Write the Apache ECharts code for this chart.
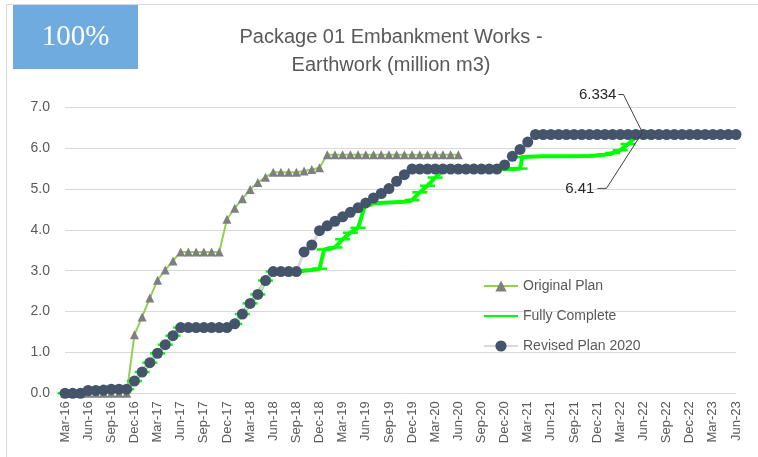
<!DOCTYPE html>
<html>
<head>
<meta charset="utf-8">
<script src="https://cdn.jsdelivr.net/npm/echarts@6/dist/echarts.min.js"></script>
<style>
html,body{margin:0;padding:0;background:#fff;}
#c{width:758px;height:457px;}
</style>
</head>
<body>
<div id="c"></div>
<script>
// Tick labels every 3 months, month index 0 = Mar-16
const tickLabels = ['Mar-16','Jun-16','Sep-16','Dec-16','Mar-17','Jun-17','Sep-17','Dec-17',
  'Mar-18','Jun-18','Sep-18','Dec-18','Mar-19','Jun-19','Sep-19','Dec-19','Mar-20','Jun-20',
  'Sep-20','Dec-20','Mar-21','Jun-21','Sep-21','Dec-21','Mar-22','Jun-22','Sep-22','Dec-22',
  'Mar-23','Jun-23'];

// Revised Plan 2020, monthly Mar-16 .. Jun-23
const revisedPlan = [
  0,0,0,0.07,0.07,0.08,0.1,0.1,0.1,
  0.3,0.52,0.75,0.98,1.19,1.41,1.61,
  1.61,1.61,1.61,1.61,1.61,1.61,
  1.7,1.94,2.2,2.42,2.76,2.98,2.98,2.98,2.98,
  3.46,3.63,3.98,4.1,4.21,4.32,4.43,4.54,4.66,4.78,4.89,5.01,5.19,5.35,5.49,
  5.49,5.49,5.49,5.49,5.49,5.49,5.49,5.49,5.49,5.49,5.49,
  5.59,5.8,5.97,6.15,6.334,
  6.334,6.334,6.334,6.334,6.334,6.334,6.334,6.334,6.334,6.334,6.334,6.334,6.334,
  6.334,6.334,6.334,6.334,6.334,6.334,6.334,6.334,6.334,6.334,6.334,6.334,6.334
];

// Original Plan, monthly Mar-16 .. Jun-20
const originalPlan = [
  0,0,0,0,0,0,0,0,0,
  1.43,1.87,2.33,2.77,3.02,3.24,3.46,
  3.46,3.46,3.46,3.46,3.46,
  4.26,4.53,4.76,4.99,5.16,5.29,5.41,
  5.41,5.41,5.41,
  5.44,5.48,5.52,
  5.84,5.84,5.84,5.84,5.84,5.84,5.84,5.84,5.84,5.84,5.84,5.84,5.84,5.84,5.84,5.84,5.84,5.84
];

// Fully Complete: month positions (index from Mar-16) and values
const fcMonths = [0,1,2,3,4,5,6,7,8,9,10,11,12,13,14,15,16,17,18,19,20,21,22,23,24,25,26,27,28,29,30,
  31,32,33,33.6,35,36,37,38,38.9,40,42,44,45,46,47,48,49,50,52,54,56,58,59,59.3,60,62,65,68,70,71,72,73,74,75];
const fcValues = [0,0,0,0.07,0.07,0.08,0.1,0.1,0.1,0.3,0.52,0.75,0.98,1.19,1.41,1.61,1.61,1.61,1.61,1.61,1.61,1.61,
  1.7,1.94,2.2,2.42,2.76,2.98,2.98,2.98,2.98,
  3.0,3.02,3.05,3.52,3.57,3.77,3.93,4.05,4.6,4.65,4.67,4.69,4.73,4.92,5.08,5.28,5.46,5.49,5.49,5.49,5.49,5.49,5.5,5.78,5.79,5.8,5.8,5.81,5.84,5.88,5.95,6.1,6.27,6.41];

const seriesNames = ['Original Plan','Fully Complete','Revised Plan 2020'];

const chart = echarts.init(document.getElementById('c'), null, {renderer:'canvas'});
const FONT = 'Liberation Sans';
const GREY = '#595959';

const pairs = (arr) => arr.map((v,i)=>[i,v]);

chart.setOption({
  backgroundColor:'#ffffff',
  animation:false,
  title:{
    text:'Package 01 Embankment Works -\nEarthwork (million m3)',
    left:386, top:18, textAlign:'center',
    textStyle:{fontFamily:FONT,fontSize:20,fontWeight:'normal',color:GREY,lineHeight:28}
  },
  grid:{left:65,right:22,top:107.3,bottom:63.7,containLabel:false},
  legend:{
    orient:'vertical', left:478, top:274, itemWidth:34, itemHeight:14, itemGap:16,
    data:[
      {name:seriesNames[0]},
      {name:seriesNames[1], itemStyle:{opacity:0}},
      {name:seriesNames[2]}
    ],
    textStyle:{fontFamily:FONT,fontSize:14,color:GREY}
  },
  xAxis:{
    type:'value', min:0, max:87, interval:3,
    axisLine:{show:true,lineStyle:{color:'#d9d9d9',width:1}},
    axisTick:{show:false},
    splitLine:{show:false},
    axisLabel:{
      rotate:90, margin:8, fontFamily:FONT, fontSize:13, color:GREY,
      formatter:(v)=>tickLabels[Math.round(v/3)] || ''
    }
  },
  yAxis:{
    type:'value', min:0, max:7, interval:1,
    axisLine:{show:false}, axisTick:{show:false},
    splitLine:{lineStyle:{color:'#d9d9d9',width:1}},
    axisLabel:{margin:15,fontFamily:FONT,fontSize:14,color:GREY,formatter:(v)=>v.toFixed(1)}
  },
  series:[
    {
      name:seriesNames[0], type:'line', data:pairs(originalPlan),
      lineStyle:{color:'#92d050',width:2},
      itemStyle:{color:'#7f7f7f'},
      symbol:'triangle', symbolSize:9, showAllSymbol:true
    },
    {
      name:seriesNames[1], type:'line', data:fcMonths.map((m,i)=>[m,fcValues[i]]),
      lineStyle:{color:'#00ff00',width:4},
      itemStyle:{color:'#00ff00'},
      symbol:'rect', symbolSize:[15,2.5], showAllSymbol:true
    },
    {
      name:seriesNames[2], type:'line', data:pairs(revisedPlan),
      lineStyle:{color:'#d9d9d9',width:3},
      itemStyle:{color:'#44546a'},
      symbol:'circle', symbolSize:11, showAllSymbol:true
    }
  ]
});

const pR = chart.convertToPixel({xAxisIndex:0,yAxisIndex:0},[75,revisedPlan[75]]);
const pF = chart.convertToPixel({xAxisIndex:0,yAxisIndex:0},[fcMonths[fcMonths.length-1],fcValues[fcValues.length-1]]);

chart.setOption({
  graphic:[
    {type:'rect',shape:{x:6.5,y:4.5,width:780,height:480},style:{fill:null,stroke:'#d9d9d9',lineWidth:1},silent:true,z:0},
    {type:'rect',shape:{x:13,y:5,width:125,height:64},style:{fill:'#6fabdf'},z:10},
    {type:'text',x:75.5,y:37,style:{text:'100%',fontFamily:'Liberation Serif',fontSize:29,fill:'#ffffff',textAlign:'center',textVerticalAlign:'middle'},z:11},
    {type:'text',x:pR[0]-27,y:pR[1]-40,style:{text:'6.334',fontFamily:FONT,fontSize:15,fill:'#262626',textAlign:'right',textVerticalAlign:'middle'},z:20},
    {type:'polyline',shape:{points:[[pR[0]-25,pR[1]-40],[pR[0]-20,pR[1]-40],[pR[0]-1,pR[1]-2]]},style:{stroke:'#404040',lineWidth:1,fill:null},z:20},
    {type:'text',x:pF[0]-49,y:pF[1]+57,style:{text:'6.41',fontFamily:FONT,fontSize:15,fill:'#262626',textAlign:'right',textVerticalAlign:'middle'},z:20},
    {type:'polyline',shape:{points:[[pF[0]-46,pF[1]+57],[pF[0]-37,pF[1]+57],[pF[0]-1,pF[1]+1]]},style:{stroke:'#404040',lineWidth:1,fill:null},z:20}
  ]
});
</script>
</body>
</html>
